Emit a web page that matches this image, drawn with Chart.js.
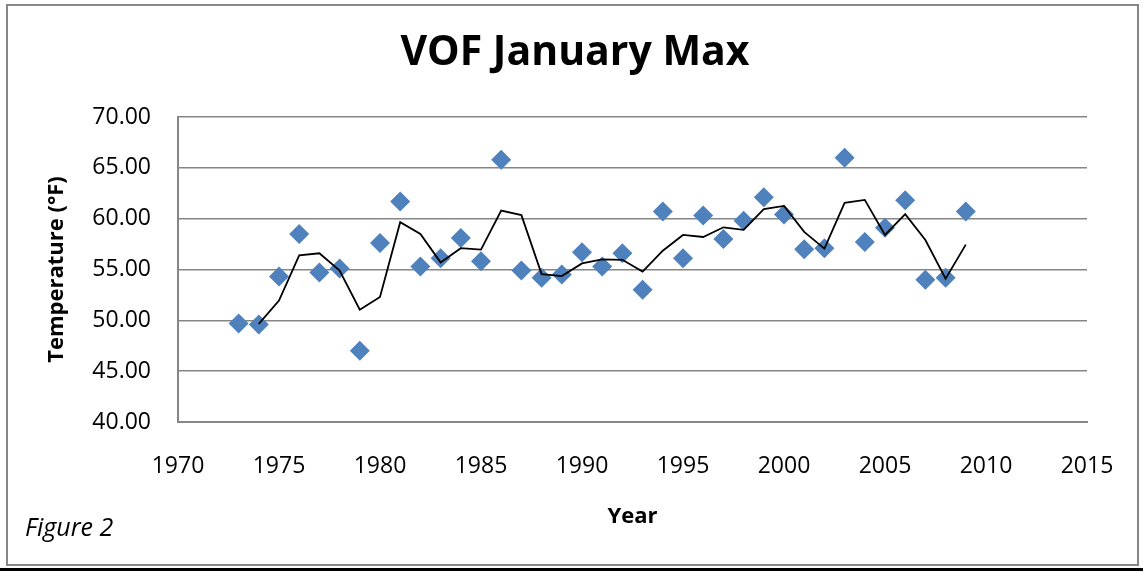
<!DOCTYPE html>
<html>
<head>
<meta charset="utf-8">
<title>VOF January Max</title>
<script src="https://cdn.jsdelivr.net/npm/chart.js@4"></script>
<style>
  html, body { margin: 0; padding: 0; background: #fff; }
  #wrap { position: relative; width: 1143px; height: 571px; overflow: hidden; }
  #frame { position: absolute; left: 6px; top: 4px; width: 1133px; height: 562px; box-sizing: border-box; border: 2px solid #878787; }
  #bar { position: absolute; left: 0; top: 568px; width: 1143px; height: 3px; background: #000; }
  #fig { position: absolute; left: 25px; top: 514px; font: italic 25px/25px "Open Sans", sans-serif; color: #000; }
  #chart { position: absolute; left: 0; top: 0; }
</style>
</head>
<body>
<div id="wrap">
  <div id="frame"></div>
  <div id="bar"></div>
  <canvas id="chart" width="1143" height="571"></canvas>
  <div id="fig">Figure 2</div>
</div>
<script>
// values
const years = [1973, 1974, 1975, 1976, 1977, 1978, 1979, 1980, 1981, 1982, 1983, 1984, 1985,
               1986, 1987, 1988, 1989, 1990, 1991, 1992, 1993, 1994, 1995, 1996, 1997, 1998,
               1999, 2000, 2001, 2002, 2003, 2004, 2005, 2006, 2007, 2008, 2009];
const maxTemps = [49.7, 49.6, 54.3, 58.5, 54.7, 55.1, 47.0, 57.6, 61.7, 55.3, 56.1, 58.1, 55.8,
                  65.8, 54.9, 54.2, 54.5, 56.7, 55.3, 56.6, 53.0, 60.7, 56.1, 60.3, 58.0, 59.8,
                  62.1, 60.4, 57.0, 57.1, 66.0, 57.7, 59.1, 61.8, 54.0, 54.2, 60.7];

// black trend line (2 point moving average), starts in 1974
const trendYears = years.slice(1);
const trendTemps = [49.65, 51.95, 56.4, 56.6, 54.9, 51.05, 52.3, 59.65, 58.5, 55.7, 57.1, 56.95,
                    60.8, 60.35, 54.55, 54.35, 55.6, 56.0, 55.95, 54.8, 56.85, 58.4, 58.2, 59.15,
                    58.9, 60.95, 61.25, 58.7, 57.05, 61.55, 61.85, 58.4, 60.45, 57.9, 54.1, 57.45];

const xTickValues = [1970, 1975, 1980, 1985, 1990, 1995, 2000, 2005, 2010, 2015];
const yTickValues = [40, 45, 50, 55, 60, 65, 70];

Chart.defaults.font.family = '"Open Sans", sans-serif';
Chart.defaults.color = '#000';

const gridGray = '#868686';

new Chart(document.getElementById('chart'), {
    type: 'scatter',
    data: {
        datasets: [{
            label: 'Max',
            data: years.map((y, i) => ({ x: y, y: maxTemps[i] })),
            pointStyle: 'rectRot',
            pointRadius: 10,
            pointHoverRadius: 10,
            backgroundColor: '#4F81BD',
            borderColor: '#4F81BD',
            borderWidth: 0,
            order: 1
        }, {
            label: 'Trend',
            data: trendYears.map((y, i) => ({ x: y, y: trendTemps[i] })),
            showLine: true,
            borderColor: '#000',
            borderWidth: 1.8,
            pointRadius: 0,
            tension: 0,
            order: 0
        }]
    },
    options: {
        responsive: false,
        animation: false,
        layout: { padding: { top: 0, left: 7, right: 0, bottom: 41.3 } },
        plugins: {
            legend: { display: false },
            tooltip: { enabled: false },
            title: {
                display: true,
                text: 'VOF January Max',
                font: { size: 41, weight: 'bold' },
                color: '#000',
                padding: { top: 29, bottom: 38.8 }
            }
        },
        scales: {
            x: {
                type: 'linear',
                min: 1970,
                max: 2015,
                afterBuildTicks: (axis) => { axis.ticks = xTickValues.map(v => ({ value: v })); },
                afterFit: (axis) => { axis.height = 107.7; },
                grid: { display: false },
                border: { display: true, color: gridGray, width: 2 },
                ticks: {
                    padding: 23,
                    font: { size: 23 },
                    maxRotation: 0,
                    callback: (v) => String(v)
                },
                title: {
                    display: true,
                    text: 'Year',
                    font: { size: 22, weight: 'bold' },
                    padding: { top: 0, bottom: 0 }
                }
            },
            y: {
                min: 40,
                max: 70,
                afterBuildTicks: (axis) => { axis.ticks = yTickValues.map(v => ({ value: v })); },
                afterFit: (axis) => { axis.width = 171; },
                grid: { color: gridGray, lineWidth: 1.4, drawTicks: false },
                border: { display: true, color: gridGray, width: 2 },
                ticks: {
                    padding: 27,
                    font: { size: 23 },
                    callback: (v) => v.toFixed(2)
                },
                title: {
                    display: true,
                    text: 'Temperature (°F)',
                    font: { size: 22, weight: 'bold' },
                    padding: { top: 37, bottom: 0 }
                }
            },
            // empty box on the right so the plot ends where the original does
            yRight: {
                position: 'right',
                display: true,
                afterFit: (axis) => { axis.width = 56; },
                grid: { display: false },
                border: { display: false },
                ticks: { display: false }
            }
        }
    }
});
</script>
</body>
</html>
